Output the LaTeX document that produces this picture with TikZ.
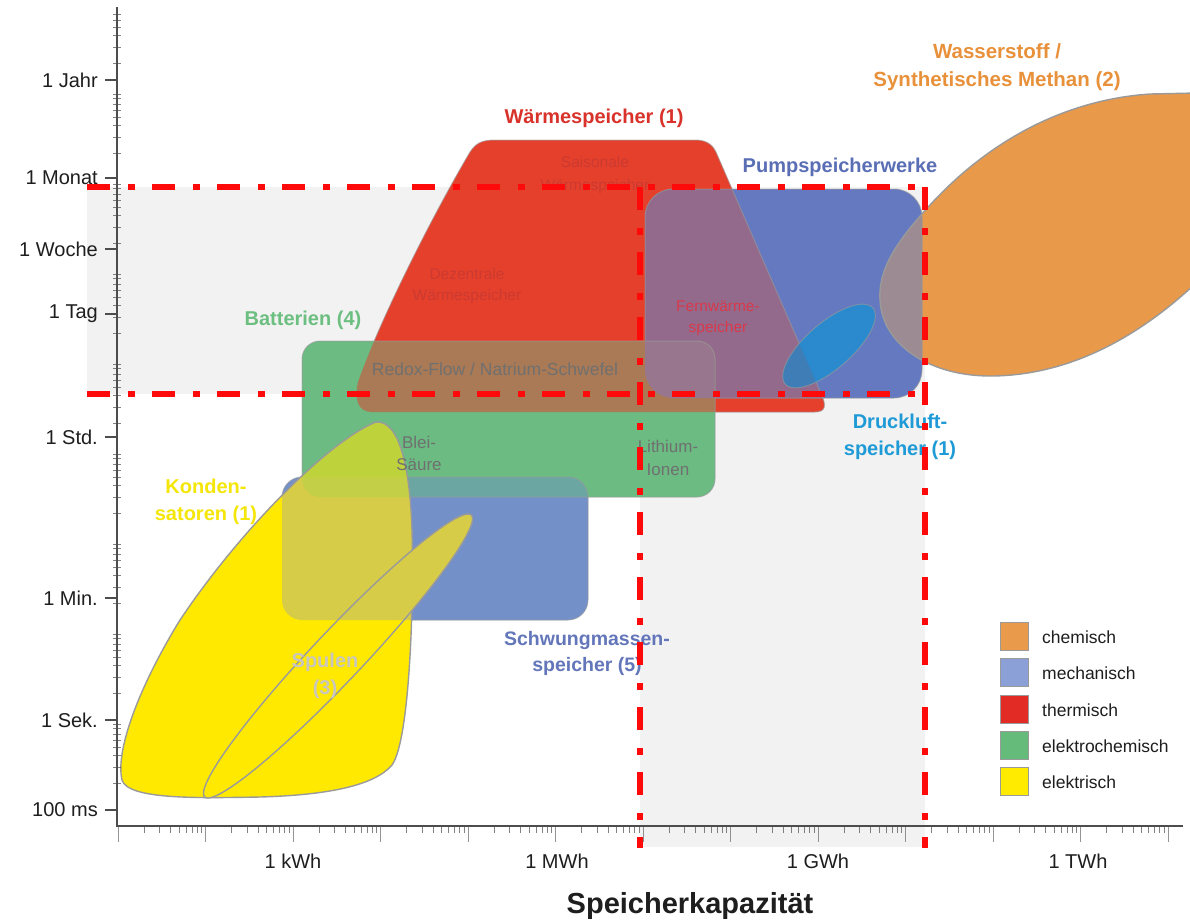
\documentclass[tikz,border=0pt]{standalone}
\usepackage{fontspec}
\setmainfont{Liberation Sans}
\definecolor{bgGray}{HTML}{F2F2F2}
\definecolor{cOrange}{HTML}{E8994A}
\definecolor{cRed}{HTML}{E5402C}
\definecolor{cBlueP}{HTML}{6479BF}
\definecolor{cPurple}{HTML}{936A8C}
\definecolor{cMauve}{HTML}{9C8B92}
\definecolor{cDruck}{HTML}{2A8ACD}
\definecolor{cDruckR}{HTML}{3E7DB6}
\definecolor{cGreen}{HTML}{6BBB82}
\definecolor{cBrown}{HTML}{A97A55}
\definecolor{cGRB}{HTML}{98768E}
\definecolor{cSchw}{HTML}{7390C8}
\definecolor{cTeal}{HTML}{6CA6A3}
\definecolor{cYellow}{HTML}{FFE900}
\definecolor{cYG}{HTML}{BED23C}
\definecolor{cYB}{HTML}{D6CC47}
\definecolor{cYGB}{HTML}{C4CF48}
\definecolor{cOutline}{HTML}{9A9A9A}
\definecolor{cDash}{HTML}{FF0A0A}
\definecolor{cAxis}{HTML}{4D4D4D}
\definecolor{tDark}{HTML}{1E1E1E}
\definecolor{tRed}{HTML}{D8322A}
\definecolor{tRedIn}{HTML}{CC3A30}
\definecolor{tFern}{HTML}{D9394A}
\definecolor{tBlue}{HTML}{5A6EB5}
\definecolor{tOrange}{HTML}{E8913A}
\definecolor{tDruck}{HTML}{1E9AD6}
\definecolor{tSchw}{HTML}{6376BA}
\definecolor{tGreen}{HTML}{6CBF80}
\definecolor{tYellow}{HTML}{F5E60A}
\definecolor{tSpul}{HTML}{C9C6BE}
\definecolor{tGray}{HTML}{707070}
\definecolor{lgOrange}{HTML}{E99A4A}
\definecolor{lgBlue}{HTML}{8BA0D6}
\definecolor{lgRed}{HTML}{E32B25}
\definecolor{lgGreen}{HTML}{65BB79}
\definecolor{lgYellow}{HTML}{FFEB00}
% shape outlines
\def\pOrange{(880,300) .. controls (878,268) and (898,240) .. (930,205) .. controls (985,145) and (1060,100) .. (1150,94) -- (1196,93) -- (1196,283) .. controls (1130,345) and (1060,376) .. (990,376) .. controls (930,376) and (882,345) .. (880,300) -- cycle}
\def\pRed{(600,412) -- (372,412) .. controls (358,412) and (354,400) .. (358,382) .. controls (380,320) and (430,220) .. (470,152) .. controls (476,143) and (482,140) .. (495,140) -- (695,140) .. controls (706,140) and (712,144) .. (716,152) -- (822,396) .. controls (826,405) and (826,412) .. (815,412) -- cycle}
\def\pBlueP{[rounded corners=28pt] (645,189) rectangle (922,398)}
\def\pDruck{plot[domain=0:360,samples=90] ({829+58*cos(\t)*cos(41)-23*sin(\t)*sin(41)},{346-58*cos(\t)*sin(41)-23*sin(\t)*cos(41)}) -- cycle}
\def\pGreen{[rounded corners=18pt] (302,341) rectangle (715,497)}
\def\pSchw{[rounded corners=20pt] (282,477) rectangle (588,620)}
\def\pYellow{(376,422) .. controls (330,440) and (240,530) .. (180,620) .. controls (140,685) and (115,750) .. (122,780) .. controls (128,800) and (200,798) .. (260,797) .. controls (330,795) and (375,785) .. (392,765) .. controls (410,740) and (414,600) .. (412,530) .. controls (410,470) and (400,420) .. (376,422) -- cycle}
\def\pSpul{plot[domain=0:360,samples=120] ({338+194*cos(\t)*cos(46.6)-25*sin(\t)*sin(46.6)},{656-194*cos(\t)*sin(46.6)-25*sin(\t)*cos(46.6)}) -- cycle}
\begin{document}
\begin{tikzpicture}[x=1pt,y=-1pt,variable=\t,
  outl/.style={draw=cOutline,line width=1.4pt},
  softoutl/.style={draw=cOutline,draw opacity=0.6,line width=1pt},
  dashline/.style={draw=cDash,line width=6pt,dash pattern=on 23pt off 18pt on 7pt off 17pt},
  axisline/.style={draw=cAxis,line width=2pt},
  tickmark/.style={draw=cAxis,line width=0.8pt},
  ticklbl/.style={font=\fontsize{20}{23}\selectfont,text=tDark,inner sep=0pt},
  catlbl/.style={font=\fontsize{20}{27}\selectfont\bfseries,align=center,inner sep=0pt},
  inlbl/.style={font=\fontsize{16}{21}\selectfont,align=center,inner sep=0pt},
  legbox/.style={draw=cOutline,line width=0.8pt,minimum size=28pt,inner sep=0pt},
  legtxt/.style={font=\fontsize{17.5}{20}\selectfont,text=tDark,anchor=west,inner sep=0pt}]
\useasboundingbox (0,0) rectangle (1190,922);
\fill[white] (0,0) rectangle (1190,922);
% gray highlighted region
\fill[bgGray] (87,187) rectangle (925,394);
\fill[bgGray] (640,394) rectangle (925,847);
% chemisch / thermisch / Pumpspeicher
\fill[cOrange] \pOrange;
\fill[cRed] \pRed;
\fill[cBlueP] \pBlueP;
\begin{scope}\clip \pRed; \fill[cPurple] \pBlueP; \end{scope}
\begin{scope}\clip \pOrange; \fill[cMauve] \pBlueP; \end{scope}
\draw[outl] \pOrange;
\draw[softoutl] \pRed;
\draw[softoutl] \pBlueP;
% Druckluft
\fill[cDruck] \pDruck;
\begin{scope}\clip \pDruck; \fill[cDruckR] \pRed; \end{scope}
\draw[softoutl] \pDruck;
% Batterien
\fill[cGreen] \pGreen;
\begin{scope}\clip \pGreen; \fill[cBrown] \pRed; \clip \pRed; \fill[cGRB] \pBlueP; \end{scope}
% Schwungmassen
\fill[cSchw] \pSchw;
\begin{scope}\clip \pSchw; \fill[cTeal] \pGreen; \end{scope}
\draw[softoutl] \pGreen;
\draw[softoutl] \pSchw;
% Kondensatoren
\fill[cYellow] \pYellow;
\begin{scope}\clip \pYellow; \fill[cYG] \pGreen; \fill[cYB] \pSchw; \clip \pGreen; \fill[cYGB] \pSchw; \end{scope}
\draw[outl] \pYellow;
% Spulen
\fill[cYellow] \pSpul;
\begin{scope}\clip \pSpul; \fill[cYB] \pSchw; \end{scope}
\draw[outl] \pSpul;
% inner labels
\node[inlbl,font=\fontsize{15.5}{23}\selectfont,text=tRedIn] (saison) at (595,175) {Saisonale\\Wärmespeicher};
\node[inlbl,font=\fontsize{15.5}{21}\selectfont,text=tRedIn] (dezent) at (467,286) {Dezentrale\\Wärmespeicher};
\node[inlbl,font=\fontsize{15.5}{21}\selectfont,text=tFern] (fern) at (718,318) {Fernwärme-\\speicher};
\node[inlbl,font=\fontsize{17.5}{21}\selectfont,text=tGray] (redox) at (495,369) {Redox-Flow / Natrium-Schwefel};
\node[inlbl,font=\fontsize{17}{22}\selectfont,text=tGray] (blei) at (419,453) {Blei-\\Säure};
\node[inlbl,font=\fontsize{17}{23}\selectfont,text=tGray] (lith) at (668,458) {Lithium-\\Ionen};
\node[catlbl,text=tSpul] (spul) at (325,676) {Spulen\\(3)};
% category labels
\node[catlbl,text=tRed] (waerme) at (594,118) {Wärmespeicher (1)};
\node[catlbl,text=tBlue] (pump) at (840,167) {Pumpspeicherwerke};
\node[catlbl,font=\fontsize{20.5}{28}\selectfont\bfseries,text=tOrange] (wasser) at (997,67) {Wasserstoff /\\Synthetisches Methan (2)};
\node[catlbl,text=tGreen] (batt) at (303,320) {Batterien (4)};
\node[catlbl,text=tDruck] (druck) at (900,437) {Druckluft-\\speicher (1)};
\node[catlbl,text=tYellow] (konden) at (206,502) {Konden-\\satoren (1)};
\node[catlbl,font=\fontsize{19.5}{26}\selectfont\bfseries,text=tSchw] (schw) at (587,653) {Schwungmassen-\\speicher (5)};
% axes
\draw[axisline] (117,7) -- (117,826) -- (1183,826);
\foreach \yv in {80,178,249,314,437,598,720,810}{\draw[tickmark,line width=1.2pt] (105,\yv) -- (117,\yv);}
\foreach \d in {0,...,8}{\foreach \k in {2,...,9}{%
  \pgfmathsetmacro\yy{810-90*(\d+log10(\k))}%
  \ifdim\yy pt>12pt \draw[tickmark,draw opacity=0.7] (113,\yy) -- (121,\yy);\fi}}
\foreach \n in {0,...,12}{%
  \pgfmathsetmacro\xd{118+87.5*\n}%
  \draw[tickmark,draw opacity=0.6] (\xd,826) -- (\xd,842);
  \foreach \k in {2,...,9}{%
    \pgfmathsetmacro\xx{\xd+87.5*log10(\k)}%
    \ifdim\xx pt<1183pt \draw[tickmark,draw opacity=0.7] (\xx,826) -- (\xx,833);\fi}}
\node[ticklbl,anchor=east] (yJahr) at (98,80) {1 Jahr};
\node[ticklbl,anchor=east] (yMonat) at (98,178) {1 Monat};
\node[ticklbl,anchor=east] (yWoche) at (98,249) {1 Woche};
\node[ticklbl,anchor=east] (yTag) at (98,314) {1 Tag};
\node[ticklbl,anchor=east] (yStd) at (98,437) {1 Std.};
\node[ticklbl,anchor=east] (yMin) at (98,598) {1 Min.};
\node[ticklbl,anchor=east] (ySek) at (98,720) {1 Sek.};
\node[ticklbl,anchor=east] (yMs) at (98,810) {100 ms};
\node[ticklbl] (xk) at (293,861) {1 kWh};
\node[ticklbl] (xM) at (557,861) {1 MWh};
\node[ticklbl] (xG) at (818,861) {1 GWh};
\node[ticklbl] (xT) at (1078,861) {1 TWh};
\node[font=\fontsize{29}{32}\selectfont\bfseries,text=tDark,inner sep=0pt] (xtitle) at (690,906) {Speicherkapazität};
% legend
\node[legbox,fill=lgOrange] (lg1) at (1014,636) {};
\node[legbox,fill=lgBlue] (lg2) at (1014,672) {};
\node[legbox,fill=lgRed] (lg3) at (1014,709) {};
\node[legbox,fill=lgGreen] (lg4) at (1014,745) {};
\node[legbox,fill=lgYellow] (lg5) at (1014,781) {};
\node[legtxt] (lt1) at (1042,637) {chemisch};
\node[legtxt] (lt2) at (1042,673) {mechanisch};
\node[legtxt] (lt3) at (1042,710) {thermisch};
\node[legtxt] (lt4) at (1042,746) {elektrochemisch};
\node[legtxt] (lt5) at (1042,782) {elektrisch};
% red dash-dot frame
\draw[dashline] (87,187) -- (925,187);
\draw[dashline] (87,394) -- (925,394);
\draw[dashline] (640,187) -- (640,848);
\draw[dashline] (925,187) -- (925,848);
\end{tikzpicture}
\end{document}
